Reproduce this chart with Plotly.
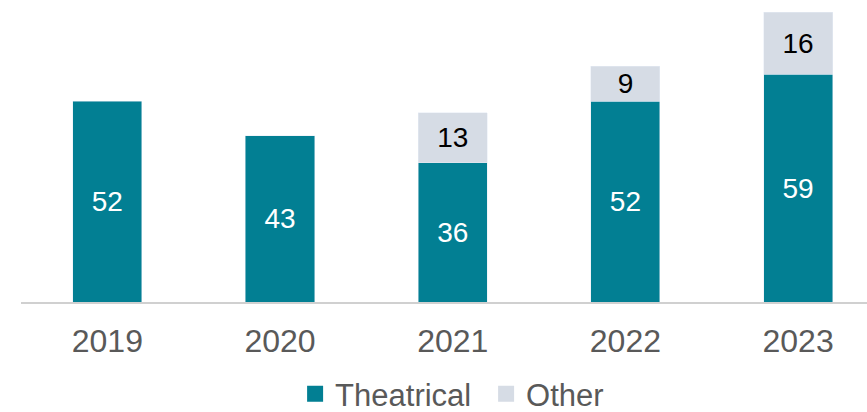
import plotly.graph_objects as go

years = ["2019", "2020", "2021", "2022", "2023"]
theatrical = [52, 43, 36, 52, 59]
other = [None, None, 13, 9, 16]

TEAL = "#027F93"
GREY = "#D6DCE5"
FONT = "Arial, Liberation Sans, sans-serif"

fig = go.Figure()

fig.add_trace(go.Bar(
    x=years, y=theatrical, name="Theatrical", marker_color=TEAL,
    width=0.4, text=theatrical, textposition="inside", insidetextanchor="middle",
    textangle=0, constraintext="none",
    textfont=dict(family=FONT, size=28, color="white"),
    showlegend=False,
))
fig.add_trace(go.Bar(
    x=years, y=other, name="Other", marker_color=GREY,
    width=0.4, text=other, textposition="inside", insidetextanchor="middle",
    textangle=0, constraintext="none",
    textfont=dict(family=FONT, size=28, color="black"),
    showlegend=False,
))

# legend entries with larger square swatches
for name, col in [("Theatrical", TEAL), ("Other", GREY)]:
    fig.add_trace(go.Scatter(
        x=[None], y=[None], mode="markers", name=name,
        marker=dict(symbol="square", size=16, color=col),
    ))

fig.update_layout(
    width=867, height=412,
    barmode="stack",
    paper_bgcolor="white", plot_bgcolor="white",
    margin=dict(l=21, r=0, t=0, b=110, autoexpand=False),
    font=dict(family=FONT, color="#595959"),
    xaxis=dict(
        type="category", range=[-0.5, 4.399],
        showline=True, linecolor="#D0D0D0", linewidth=1.5,
        ticks="outside", ticklen=10, tickcolor="rgba(0,0,0,0)",
        tickfont=dict(family=FONT, size=32, color="#595959"),
        showgrid=False, zeroline=False, fixedrange=True, automargin=False,
    ),
    yaxis=dict(
        range=[0, 78.2], visible=False, showgrid=False, zeroline=False,
    ),
    legend=dict(
        orientation="h", traceorder="normal",
        x=0.324, xanchor="left", y=-0.305, yanchor="middle",
        entrywidth=146, entrywidthmode="pixels",
        font=dict(family=FONT, size=31, color="#595959"),
        itemsizing="trace", bgcolor="rgba(0,0,0,0)",
    ),
)

fig.write_html("out.html")
